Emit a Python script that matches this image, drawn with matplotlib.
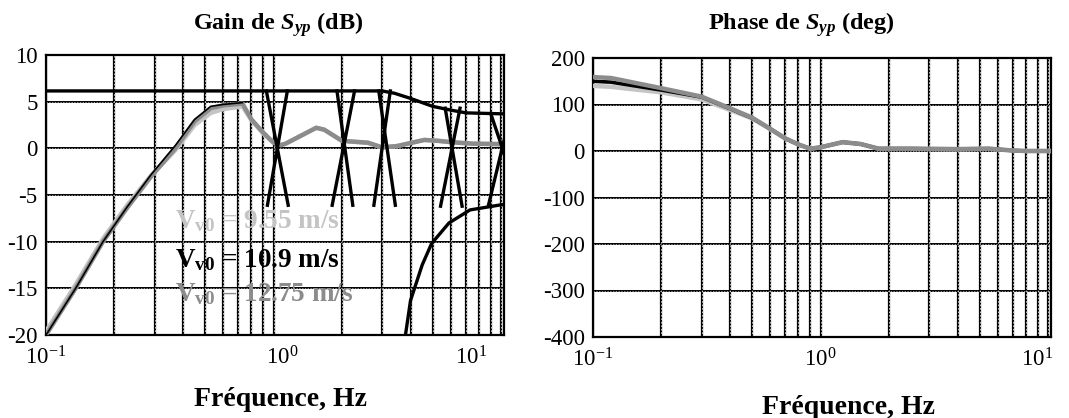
import numpy as np
import matplotlib
matplotlib.use("Agg")
import matplotlib.pyplot as plt
from matplotlib.ticker import FixedLocator, FixedFormatter, NullFormatter
from matplotlib.transforms import ScaledTranslation

plt.rcParams['font.family'] = ['Liberation Serif', 'DejaVu Serif']
plt.rcParams['mathtext.fontset'] = 'custom'
plt.rcParams['mathtext.rm'] = 'Liberation Serif'
plt.rcParams['mathtext.it'] = 'Liberation Serif:italic:bold'
plt.rcParams['mathtext.bf'] = 'Liberation Serif:bold'
plt.rcParams['axes.unicode_minus'] = False

# ---------------- data: gain (dB) ----------------
f_gain = [0.1, 0.135, 0.178, 0.227, 0.29, 0.37, 0.45, 0.53, 0.6, 0.73, 0.8, 0.9, 1.0,
          1.08, 1.13, 1.54, 1.67, 2.0, 2.6, 3.0, 3.5, 4.6, 5.3, 6.1, 7.5, 10.0, 11.0]
gain_1275 = [-20, -15, -10, -6.4, -3.0, 0.0, 2.9, 4.3, 4.6, 4.8, 3.1, 1.7, 0.6,
             0.35, 0.5, 2.2, 2.0, 0.8, 0.6, 0.1, 0.25, 0.9, 0.8, 0.65, 0.5, 0.45, 0.4]
gain_955 = [-19.6, -14.6, -9.7, -6.1, -2.9, -0.2, 2.5, 3.8, 4.2, 4.5, 3.0, 1.6, 0.6,
            0.35, 0.5, 2.2, 2.0, 0.8, 0.6, 0.1, 0.25, 0.9, 0.8, 0.65, 0.5, 0.45, 0.4]
f_gain_109_low = [0.1, 0.135, 0.178, 0.227, 0.29, 0.37, 0.45, 0.53, 0.6, 0.73]
gain_109_low = [-20, -15, -10, -6.3, -2.8, 0.3, 3.1, 4.5, 4.7, 4.9]

# black 10.9 m/s curve: upper branch, lower branch and crossing segments (NaN = break)
f_gain_109_top = [0.1, 3.0, 3.4, 4.0, 5.0, 6.0, 7.0, 10.0, 11.0]
gain_109_top = [6.15, 6.15, 5.9, 5.35, 4.5, 4.1, 3.8, 3.7, 3.7]
f_gain_109_cross = [0.93, 1.16, np.nan, 1.15, 0.94, np.nan,
                    1.90, 2.23, np.nan, 2.27, 1.81, np.nan,
                    2.90, 3.43, np.nan, 3.26, 2.76, np.nan,
                    5.68, 6.74, np.nan, 6.6, 5.42, np.nan,
                    9.0, 12.3, np.nan, 8.8, 11.0]
gain_109_cross = [6.15, -6.1, np.nan, 6.15, -6.1, np.nan,
                  6.15, -6.1, np.nan, 6.15, -6.1, np.nan,
                  6.15, -6.1, np.nan, 6.15, -6.1, np.nan,
                  4.3, -6.2, np.nan, 4.3, -6.2, np.nan,
                  3.75, -6.1, np.nan, -6.1, 3.7]
f_gain_109_bottom = [3.8, 4.0, 4.5, 4.95, 5.9, 7.3, 10.0, 11.0]
gain_109_bottom = [-20, -16.3, -12.5, -10.2, -8.0, -6.6, -6.05, -6.0]

# ---------------- data: phase (deg) ----------------
f_phase = [0.1, 0.12, 0.2, 0.3, 0.4, 0.5, 0.6, 0.7, 0.8, 0.9, 1.0, 1.25, 1.5, 1.8,
           2.5, 4.0, 5.5, 7.0, 8.0, 10.5]
phase_1275 = [159, 157, 135, 117, 92, 72, 48, 27, 14, 5, 8, 19, 15, 5, 5, 4, 5, 1, 0, 0]
phase_109 = [150, 148, 131, 116, 91, 71, 48, 27, 14, 5, 8, 19, 15, 5, 5, 4, 5, 1, 0, 0]
phase_955 = [140, 138, 126, 111, 88, 70, 47, 27, 14, 5, 8, 19, 15, 5, 5, 4, 5, 1, 0, 0]

labels = ["9.55", "10.9", "12.75"]
c_light, c_black, c_gray = "#c4c4c4", "#000000", "#8c8c8c"

fig = plt.figure(figsize=(10.69, 4.18), dpi=100)
axL = fig.add_axes([46/1069, 1-335/418, 458/1069, 280/418])
axR = fig.add_axes([593/1069, 1-337/418, 458/1069, 279/418])


def style_axes(ax, ylim, yticks):
    ax.set_xscale('log')
    ax.set_xlim(0.1, 10.3)
    ax.set_ylim(*ylim)
    ax.set_yticks(yticks)
    ax.set_yticklabels([str(v) for v in yticks])
    ax.xaxis.set_major_locator(FixedLocator([0.1, 1, 10]))
    ax.xaxis.set_major_formatter(FixedFormatter([r'$10^{-1}$', r'$10^{0}$', r'$10^{1}$']))
    minors = [m * 10.0**e for e in (-1, 0) for m in range(2, 10)]
    ax.xaxis.set_minor_locator(FixedLocator(minors))
    ax.xaxis.set_minor_formatter(NullFormatter())
    ax.tick_params(which='both', length=0, labelsize=16.5, pad=6)
    ax.tick_params(axis='x', pad=8)
    ax.grid(which='both', axis='x', color='k', lw=1.6)
    ax.grid(which='major', axis='y', color='k', lw=1.4)
    ax.set_axisbelow(True)
    # white dashed overlay inside grid lines
    xs = [0.1, 1, 10] + minors
    ax.vlines(xs, 0, 1, transform=ax.get_xaxis_transform(), colors='w',
              linestyles=(0, (2.5, 2.5)), lw=0.5, zorder=1.2)
    ax.hlines(yticks, 0, 1, transform=ax.get_yaxis_transform(), colors='w',
              linestyles=(0, (2.5, 2.5)), lw=0.4, zorder=1.2)
    for s in ax.spines.values():
        s.set_linewidth(1.6)


style_axes(axL, (-20, 10), [10, 5, 0, -5, -10, -15, -20])
style_axes(axR, (-400, 200), [200, 100, 0, -100, -200, -300, -400])

# gain plot
axL.plot(f_gain, gain_955, color=c_light, lw=3.2, zorder=3, solid_joinstyle='round')
axL.plot(f_gain, gain_1275, color=c_gray, lw=3.2, zorder=3.2, solid_joinstyle='round')
axL.plot(f_gain_109_low, gain_109_low, color=c_black, lw=1.2, zorder=3.4)
axL.plot(f_gain_109_top, gain_109_top, color=c_black, lw=2.4, zorder=3.3)
axL.plot(f_gain_109_cross, gain_109_cross, color=c_black, lw=2.4, zorder=3.3)
axL.plot(f_gain_109_bottom, gain_109_bottom, color=c_black, lw=2.4, zorder=3.3)

# phase plot
axR.plot(f_phase, phase_955, color=c_light, lw=3.2, zorder=3)
axR.plot(f_phase, phase_109, color=c_black, lw=2.6, zorder=3.1)
axR.plot(f_phase, phase_1275, color=c_gray, lw=3.2, zorder=3.2)

# annotations
txt_kw = dict(fontsize=19.5, fontweight='bold', ha='left', va='baseline', zorder=5)
axL.text(0.37, -8.5, r'V$_{\mathbf{v0}}$ = ' + labels[0] + ' m/s', color=c_light, **txt_kw)
axL.text(0.37, -12.7, r'V$_{\mathbf{v0}}$ = ' + labels[1] + ' m/s', color=c_black, **txt_kw)
axL.text(0.37, -16.4, r'V$_{\mathbf{v0}}$ = ' + labels[2] + ' m/s', color=c_gray, **txt_kw)

fig.text(278/1069, 1-25/418, r'Gain de $S_{yp}$ (dB)', fontsize=17.5, fontweight='bold',
         ha='center', va='center')
fig.text(801/1069, 1-25/418, r'Phase de $S_{yp}$ (deg)', fontsize=17.5, fontweight='bold',
         ha='center', va='center')
fig.text(281/1069, 1-399/418, 'Fréquence, Hz', fontsize=20, fontweight='bold',
         ha='center', va='center')
fig.text(849/1069, 1-407/418, 'Fréquence, Hz', fontsize=20, fontweight='bold',
         ha='center', va='center')

# tick-label placement as in the original figure
fig.canvas.draw()
def shift(lab, dx):
    lab.set_transform(lab.get_transform() + ScaledTranslation(dx / 100, 0, fig.dpi_scale_trans))
ticksL = axL.xaxis.get_major_ticks()
shift(ticksL[1].label1, 9)
shift(ticksL[2].label1, -30)
ticksR = axR.xaxis.get_major_ticks()
shift(ticksR[2].label1, -11)

fig.savefig('out.png', dpi=100)
